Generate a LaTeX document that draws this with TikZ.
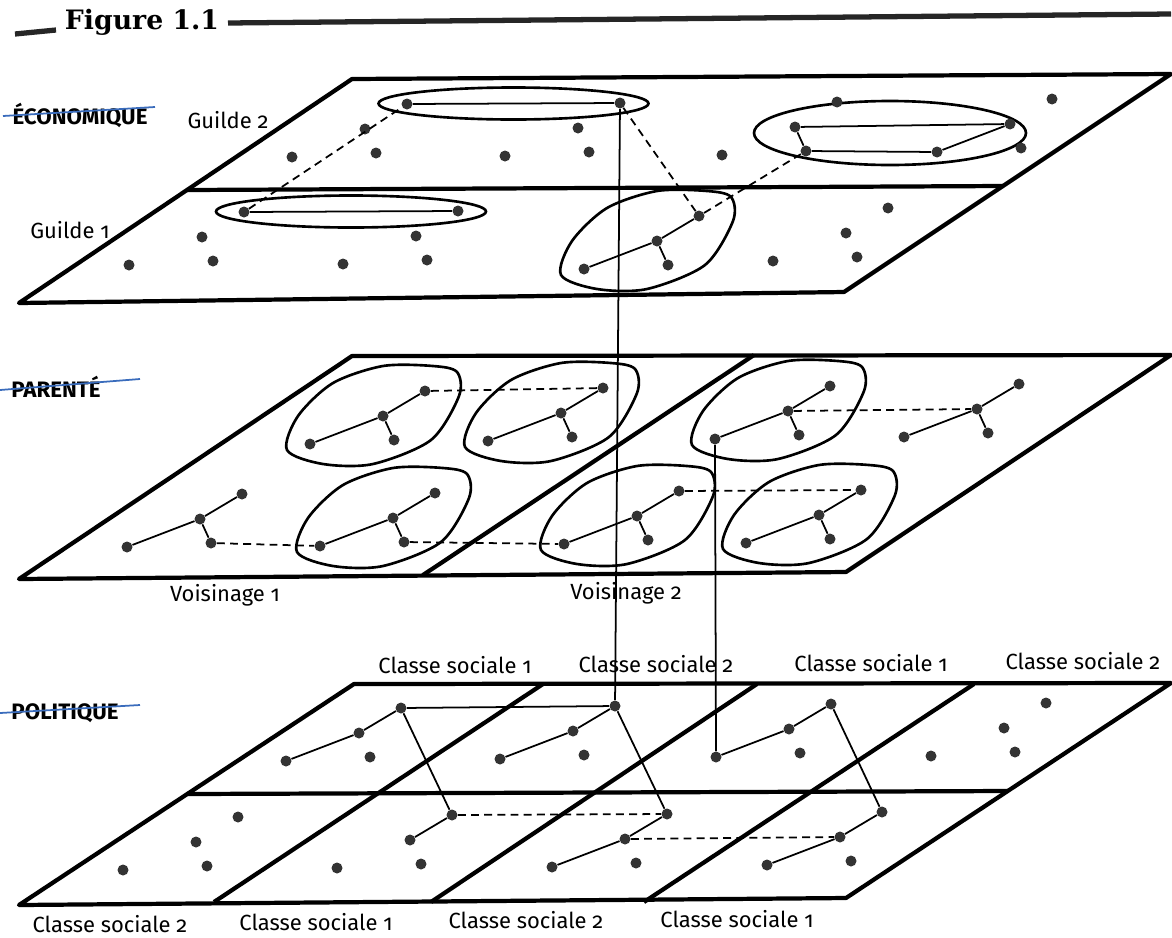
\documentclass[tikz,border=0pt]{standalone}
\usepackage{fontspec}
\setsansfont{Fira Sans}[Numbers=OldStyle]
\newfontfamily\figfont{DejaVu Serif}
\usepackage{xcolor}
\usepackage{tikz}
\usetikzlibrary{positioning,calc}
\definecolor{pen}{RGB}{58,108,188}
\pgfdeclarelayer{back}
\pgfsetlayers{back,main}

\begin{document}
\begin{tikzpicture}[
    x=0.02cm,
    y=-0.02cm,
    plane/.style={line width=2.4pt, line join=round},
    rule/.style={line width=3pt, black!85},
    link/.style={line width=1pt},
    tie/.style={line width=1pt, dash pattern=on 4.5pt off 3pt},
    loopline/.style={line width=1.5pt},
    dot/.style={circle, fill=black!80, inner sep=0pt, minimum size=0.22cm},
    lab/.style={font=\sffamily\fontsize{12.5}{14}\selectfont, inner sep=0pt, anchor=base},
    levelname/.style={font=\sffamily\bfseries\fontsize{12.7}{14}\selectfont, inner sep=0pt, anchor=base},
    strike/.style={pen, line width=1pt},
    trio/.pic={
        \node[dot] (-h) at (0,0) {};
        \node[dot] (-l) at (-73,28) {};
        \node[dot] (-t) at (42,-25) {};
        \node[dot] (-b) at (11,24) {};
    },
    hull/.pic={
        \draw[loopline] plot[smooth cycle] coordinates {
            (-96,34) (-60,48) (-10,48) (48,24) (76,-20) (74,-44) (50,-50) (0,-50) (-50,-33) (-85,0)
        };
    }
]
    \useasboundingbox (0,0) rectangle (1172,937);

    % Title bar
    \node[font=\figfont\bfseries\fontsize{15.2}{17}\selectfont, inner sep=0pt, anchor=base] (fig) at (142,29) {Figure 1.1};
    \draw[rule] (15,34) -- (56,30);
    \draw[rule] (228,23) -- (1171,14);

    % Planes
    \draw[plane] (352,79) -- (1171,74) -- (844,292) -- (19,303) -- cycle;
    \draw[plane] (187,190) -- (1003,186);
    \draw[plane] (352,356) -- (1171,355) -- (846,572) -- (19,579) -- cycle;
    \draw[plane] (423,575) -- (754,355);
    \draw[plane] (354,684) -- (1171,683) -- (846,898) -- (19,905) -- cycle;
    \draw[plane] (187,794) -- (1008,791);
    \foreach \a/\b in {214/543, 431/757, 644/974}
        \draw[plane] (\a,902) -- (\b,684);

    % Level names
    \node[levelname] (eco) at (80,124) {ÉCONOMIQUE};
    \node[levelname] (par) at (56,397) {PARENTÉ};
    \node[levelname] (pol) at (65,719) {POLITIQUE};
    \draw[strike] (3,116) -- (155,107);
    \draw[strike] (0,390) -- (140,379);
    \draw[strike] (0,713) -- (140,705);

    % Plane labels
    \node[lab] (g2) at (228,128) {Guilde 2};
    \node[lab] (g1) at (70,238) {Guilde 1};
    \node[lab] (v1) at (225,601) {Voisinage 1};
    \node[lab] (v2) at (626,599) {Voisinage 2};
    \foreach \n/\x/\y/\t in {ct1/455/673/1, ct2/656/672/2, ct3/871/671/1, ct4/1083/669/2,
                              cb1/110/932/2, cb2/316/930/1, cb3/526/928/2, cb4/737/927/1}
        \node[lab] (\n) at (\x,\y) {Classe sociale \t};

    % Groups of four persons
    \foreach \n/\x/\y in {e1/365/129, e2/578/128, e3/795/127, e4/1010/124,
                          f1/202/237, f2/416/236, f3/657/241, f4/846/233,
                          m1/200/519, m2/383/416, m3/393/518, m4/561/413,
                          m5/637/516, m6/788/411, m7/819/515, m8/977/409,
                          k1/359/733, k2/573/731, k3/789/729, k4/1004/728,
                          n1/196/842, n2/410/840, n3/625/839, n4/840/837}
        \pic (\n) at (\x,\y) {trio};

    % Circles round groups
    \begin{pgfonlayer}{back}
        \foreach \n in {f3,m2,m3,m4,m5,m6,m7}
            \pic at (\n-h) {hull};
        \draw[loopline] ($(e1-t)!0.5!(e2-t)$) ellipse [x radius=135, y radius=16];
        \draw[loopline] ($(f1-t)!0.5!(f2-t)$) ellipse [x radius=135, y radius=16];
        \draw[loopline] (890,133) ellipse [x radius=136, y radius=32];
    \end{pgfonlayer}

    % Ties inside groups
    \foreach \n in {f3,m1,m2,m3,m4,m5,m6,m7,m8} {
        \draw[link] (\n-l) -- (\n-h) -- (\n-t);
        \draw[link] (\n-h) -- (\n-b);
    }
    \foreach \n in {k1,k2,k3,n3,n4}
        \draw[link] (\n-l) -- (\n-h) -- (\n-t);
    \foreach \a/\b in {n2-h/n2-t, e1-t/e2-t, f1-t/f2-t, e3-h/e4-h, e3-h/e3-b, e3-b/e4-l, e4-l/e4-h,
                       k1-t/k2-t, k1-t/n2-t, k2-t/n3-t, k3-t/n4-t, e2-t/k2-t, m6-l/k3-l}
        \draw[link] (\a) -- (\b);

    % Weak ties
    \foreach \a/\b in {f1-t/e1-t, e2-t/f3-t, f3-t/e3-b,
                       m2-t/m4-t, m1-b/m3-l, m3-b/m5-l, m5-t/m7-t, m6-h/m8-h,
                       n2-t/n3-t, n3-h/n4-h}
        \draw[tie] (\a) -- (\b);
\end{tikzpicture}
\end{document}
